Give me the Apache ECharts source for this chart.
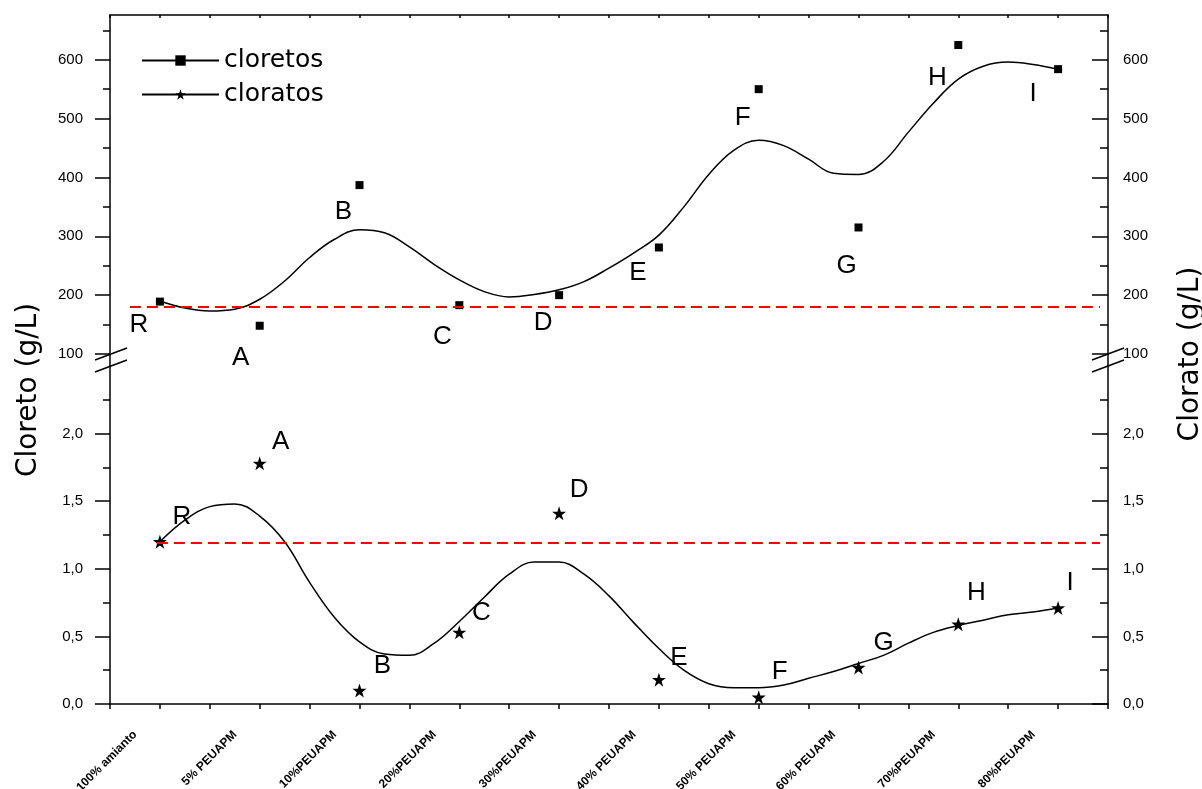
<!DOCTYPE html>
<html>
<head>
<meta charset="utf-8">
<script src="https://cdn.jsdelivr.net/npm/echarts@6.0.0/dist/echarts.min.js"></script>
<style>
html,body{margin:0;padding:0;background:#fff;}
#chart{width:1202px;height:789px;}
</style>
</head>
<body>
<div id="chart"></div>
<script>
// ---------------- data ----------------
const categories = ['100% amianto','5% PEUAPM','10%PEUAPM','20%PEUAPM','30%PEUAPM','40% PEUAPM','50% PEUAPM','60% PEUAPM','70%PEUAPM','80%PEUAPM'];
const pointLetters = ['R','A','B','C','D','E','F','G','H','I'];
const cloretos = [189,148,387,183,200,281,550,315,625,584];
const cloratos = [1.20,1.78,0.10,0.53,1.41,0.18,0.05,0.27,0.59,0.71];
// smoothed fit curves, one value every quarter category
const curveStep = 0.25;
const cloretosCurve = [190,178,173,176,193,224,264,295,311,306,282,252,226,206,197,201,209,223,246,272,302,350,405,446,463,454,431,407,405,427,477,526,567,589,596,592,584];
const cloratosCurve = [1.20,1.36,1.46,1.48,1.39,1.20,0.90,0.64,0.46,0.37,0.36,0.45,0.61,0.79,0.96,1.05,1.05,0.96,0.80,0.60,0.41,0.25,0.15,0.12,0.12,0.14,0.19,0.24,0.30,0.36,0.45,0.53,0.58,0.62,0.66,0.68,0.71];
const cloretosRef = 180;
const cloratosRef = 1.19;
const upperTicks = [100,200,300,400,500,600];
const upperMinorTicks = [150,250,350,450,550,650];
const lowerTicks = [0,0.5,1.0,1.5,2.0];
const lowerMinorTicks = [0.25,0.75,1.25,1.75,2.25];

// ---------------- layout / style config ----------------
const upperLabelOffsets = [[-21,23],[-19,32],[-16,27],[-17,32],[-16,28],[-21,25],[-16,29],[-12,38],[-21,33],[-25,25]];
const lowerLabelOffsets = [[22,-25],[21,-22],[23,-25],[22,-20],[20,-24],[20,-22],[21,-25],[25,-25],[18,-31],[12,-25]];
const STAR = 'path://M50,0 L61.8,35.1 L98.9,35.1 L68.9,56.8 L80.3,91.9 L50,70.2 L19.7,91.9 L31.1,56.8 L1.1,35.1 L38.2,35.1 Z';
const FONT = 'Liberation Sans, Arial, sans-serif';
const AX = {color:'#000', width:1.5};

const curvePairs = (arr) => arr.map((v,i) => [i*curveStep, v]);
const pointData = (arr, offs) => arr.map((v,i) => ({
  value:[i, v],
  label:{offset: offs[i], formatter: pointLetters[i]}
}));
const commaFmt = v => v.toFixed(1).replace('.', ',');

function yAxes(gridIndex, min, max, ticks, minor, fmt) {
  const base = {type:'value', gridIndex, min, max, splitLine:{show:false},
    axisLine:{show:true, onZero:false, lineStyle:AX}};
  const lab = {customValues:ticks, color:'#000', fontFamily:FONT, fontSize:15, formatter:fmt};
  return [
    Object.assign({}, base, {position:'left',
      axisTick:{customValues:ticks, length:15, lineStyle:AX},
      axisLabel:Object.assign({}, lab, {margin:27})}),
    Object.assign({}, base, {position:'left', axisLine:{show:false, onZero:false},
      axisTick:{customValues:minor, length:7, lineStyle:AX}, axisLabel:{show:false}}),
    Object.assign({}, base, {position:'right',
      axisTick:{customValues:ticks, inside:true, length:16, lineStyle:AX},
      axisLabel:Object.assign({}, lab, {margin:15})}),
    Object.assign({}, base, {position:'right', axisLine:{show:false, onZero:false},
      axisTick:{customValues:minor, inside:true, length:8, lineStyle:AX}, axisLabel:{show:false}})
  ];
}

const option = {
  animation:false,
  backgroundColor:'#fff',
  grid:[
    {left:110, right:94, top:15, height:339, outerBoundsMode:'none', containLabel:false},
    {left:110, right:94, top:366, height:338, outerBoundsMode:'none', containLabel:false}
  ],
  legend:{
    data:['cloretos','cloratos'], orient:'vertical', left:141, top:48, padding:0,
    itemWidth:77, itemHeight:13, itemGap:9, selectedMode:false,
    textStyle:{fontFamily:'DejaVu Sans, sans-serif', fontSize:25, lineHeight:25, color:'#000'}
  },
  xAxis:[
    {type:'value', gridIndex:0, position:'top', min:-0.5, max:9.5, interval:0.5,
     splitLine:{show:false}, axisLine:{show:true, onZero:false, lineStyle:AX},
     axisTick:{inside:true, length:3, lineStyle:AX}, axisLabel:{show:false}},
    {type:'value', gridIndex:1, position:'bottom', min:-0.5, max:9.5, interval:0.5,
     splitLine:{show:false}, axisLine:{show:true, onZero:false, lineStyle:AX},
     axisTick:{length:5, lineStyle:AX},
     axisLabel:{rotate:45, margin:4, padding:[0,35,0,0], color:'#000',
       fontFamily:FONT, fontWeight:'bold', fontSize:12,
       formatter:(v) => {const r = Math.round(v); return (Math.abs(v-r) < 1e-6 && r >= 0 && r < categories.length) ? categories[r] : '';}}}
  ],
  yAxis:[].concat(
    yAxes(0, 100, 676, upperTicks, upperMinorTicks, v => String(v)),
    yAxes(1, 0, 2.5, lowerTicks, lowerMinorTicks, commaFmt)
  ),
  series:[
    {name:'cloretos', type:'line', xAxisIndex:0, yAxisIndex:0, data:curvePairs(cloretosCurve),
     smooth:0.4, showSymbol:false, symbol:'rect', symbolSize:8, silent:true,
     lineStyle:{color:'#000', width:1.5}, itemStyle:{color:'#000'}, z:3},
    {name:'cloretos pts', type:'scatter', xAxisIndex:0, yAxisIndex:0,
     data:pointData(cloretos, upperLabelOffsets),
     symbol:'rect', symbolSize:8, itemStyle:{color:'#000', opacity:1}, silent:true, z:4,
     label:{show:true, position:'inside', color:'#000', fontFamily:FONT, fontSize:26},
     markLine:{silent:true, symbol:'none', label:{show:false},
       lineStyle:{color:'#ff0000', width:2, type:[11,6]},
       data:[[{coord:[-0.3, cloretosRef]},{coord:[9.42, cloretosRef]}]]}},
    {name:'cloratos', type:'line', xAxisIndex:1, yAxisIndex:4, data:curvePairs(cloratosCurve),
     smooth:0.4, showSymbol:false, symbol:STAR, symbolSize:12, silent:true,
     lineStyle:{color:'#000', width:1.5}, itemStyle:{color:'#000'}, z:3},
    {name:'cloratos pts', type:'scatter', xAxisIndex:1, yAxisIndex:4,
     data:pointData(cloratos, lowerLabelOffsets),
     symbol:STAR, symbolSize:14, itemStyle:{color:'#000', opacity:1}, silent:true, z:4,
     label:{show:true, position:'inside', color:'#000', fontFamily:FONT, fontSize:26},
     markLine:{silent:true, symbol:'none', label:{show:false},
       lineStyle:{color:'#ff0000', width:2, type:[11,6]},
       data:[[{coord:[-0.03, cloratosRef]},{coord:[9.42, cloratosRef]}]]}}
  ],
  graphic:[
    // axis break marks
    {type:'line', shape:{x1:110,y1:354,x2:110,y2:366}, style:{stroke:'#000', lineWidth:1.5}},
    {type:'line', shape:{x1:1108,y1:354,x2:1108,y2:366}, style:{stroke:'#000', lineWidth:1.5}},
    {type:'line', shape:{x1:95,y1:360,x2:127,y2:348}, style:{stroke:'#000', lineWidth:1.5}},
    {type:'line', shape:{x1:95,y1:372,x2:127,y2:360}, style:{stroke:'#000', lineWidth:1.5}},
    {type:'line', shape:{x1:1092,y1:360,x2:1124,y2:348}, style:{stroke:'#000', lineWidth:1.5}},
    {type:'line', shape:{x1:1092,y1:372,x2:1124,y2:360}, style:{stroke:'#000', lineWidth:1.5}},
    // axis titles
    {type:'text', x:29, y:390, rotation:Math.PI/2,
     style:{text:'Cloreto (g/L)', font:'28px DejaVu Sans', fill:'#000', textAlign:'center', textVerticalAlign:'middle'}},
    {type:'text', x:1191, y:354, rotation:Math.PI/2,
     style:{text:'Clorato (g/L)', font:'28px DejaVu Sans', fill:'#000', textAlign:'center', textVerticalAlign:'middle'}}
  ]
};
const chart = echarts.init(document.getElementById('chart'), null, {renderer:'canvas'});
chart.setOption(option);
</script>
</body>
</html>
